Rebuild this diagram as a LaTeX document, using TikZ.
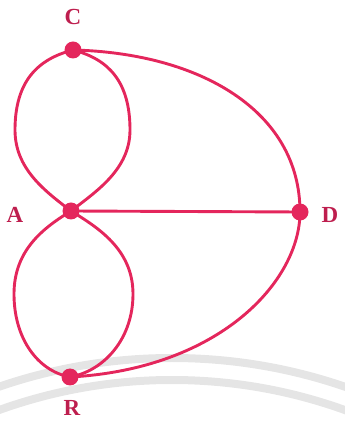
\documentclass[tikz,border=0pt]{standalone}
\usepackage{fontspec}
\setmainfont{Liberation Serif}
\begin{document}
\begin{tikzpicture}[x=1pt,y=1pt,
  edge/.style={draw=graphred,line width=2.9pt},
  vertex/.style={circle,fill=graphred,inner sep=0pt,minimum size=17pt},
  lbl/.style={text=labelred,font=\fontsize{23}{23}\selectfont\bfseries,inner sep=0pt},
  wm/.style={draw=wmgray,line width=8pt}]
\definecolor{graphred}{RGB}{228,38,92}
\definecolor{labelred}{RGB}{190,30,78}
\definecolor{wmgray}{RGB}{229,229,229}
\useasboundingbox (0,0) rectangle (345,431);
\begin{scope}
\clip (0,0) rectangle (345,431);
\draw[wm] (172,-459) circle[radius=532];
\draw[wm] (172,-459) circle[radius=510];
\end{scope}
\coordinate (Cp) at (73,381);
\coordinate (Ap) at (71,220);
\coordinate (Dp) at (300,219);
\coordinate (Bp) at (70,54);
% upper loop
\draw[edge] (Cp) .. controls (38,372) and (15,350) .. (15,301) .. controls (15,262) and (45,240) .. (Ap);
\draw[edge] (Cp) .. controls (108,372) and (130,350) .. (130,301) .. controls (130,262) and (97,240) .. (Ap);
% lower loop
\draw[edge] (Ap) .. controls (45,204) and (14,182) .. (14,137) .. controls (14,92) and (38,60) .. (Bp);
\draw[edge] (Ap) .. controls (97,204) and (133,182) .. (133,137) .. controls (133,92) and (104,60) .. (Bp);
% outer arcs
\draw[edge] (Cp) .. controls (200,378) and (300,320) .. (Dp);
\draw[edge] (Dp) .. controls (300,150) and (220,62) .. (Bp);
\draw[edge] (Ap) -- (Dp);
\node[vertex] (C) at (Cp) {};
\node[vertex] (A) at (Ap) {};
\node[vertex] (D) at (Dp) {};
\node[vertex] (B) at (Bp) {};
\node[lbl] (lC) at (73,414) {C};
\node[lbl] (lA) at (15,216) {A};
\node[lbl] (lD) at (330,216) {D};
\node[lbl] (lB) at (72,23) {R};
\end{tikzpicture}
\end{document}
